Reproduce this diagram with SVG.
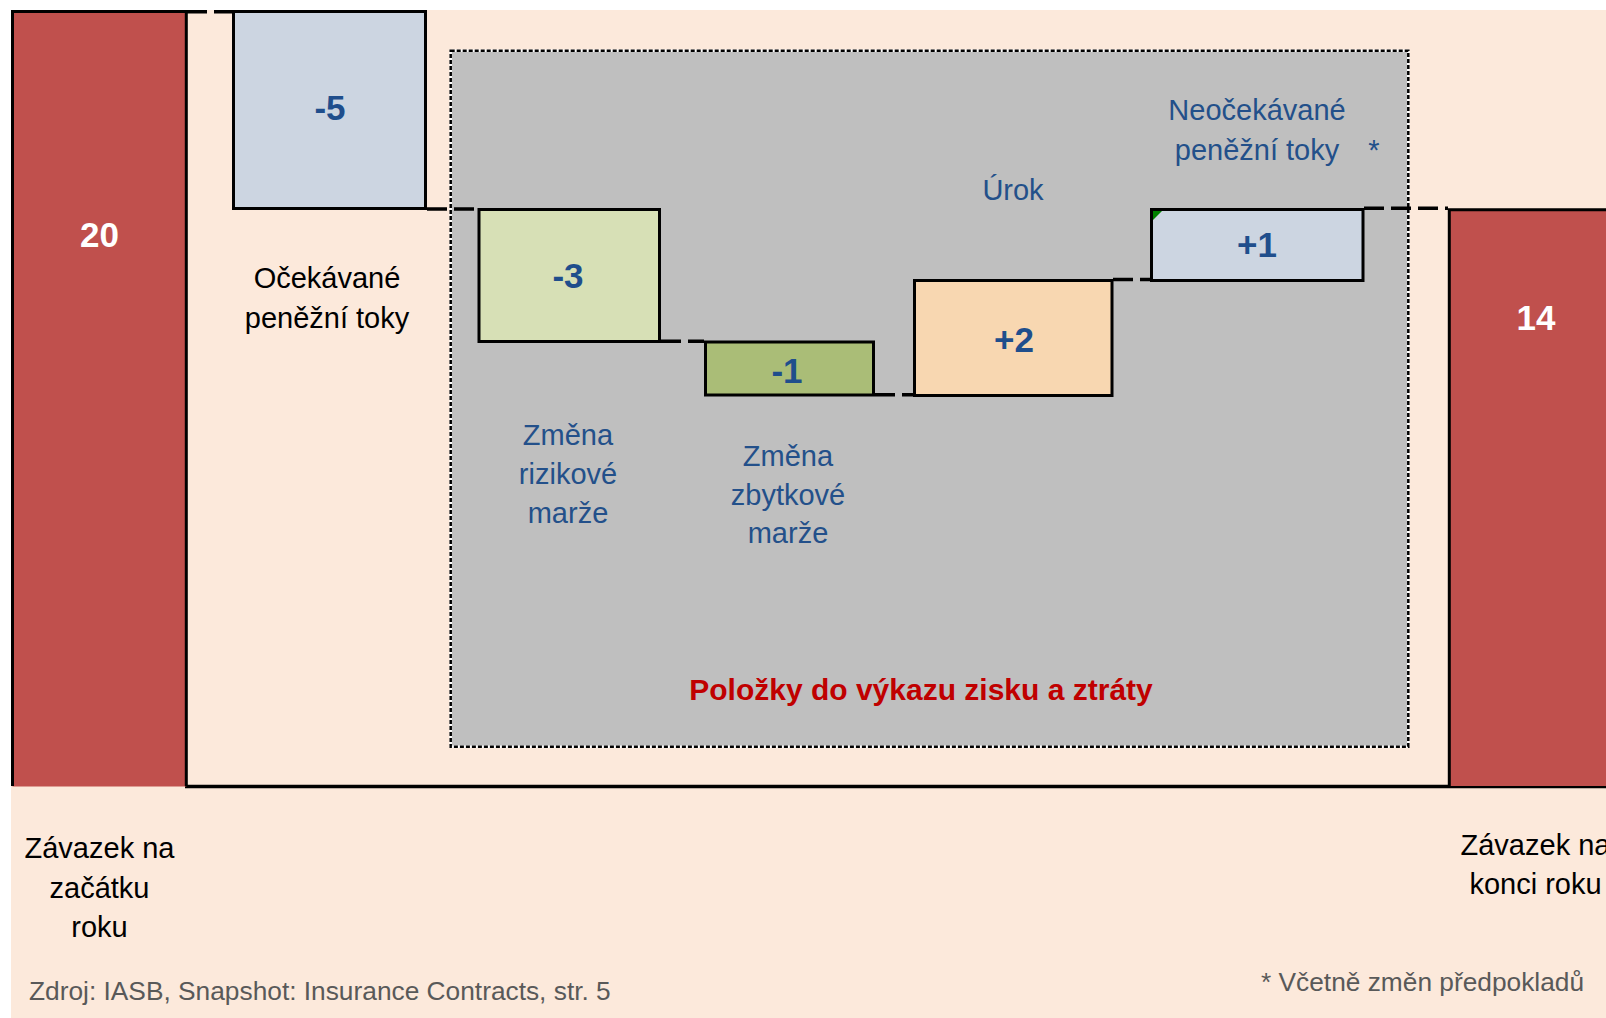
<svg xmlns="http://www.w3.org/2000/svg" width="1606" height="1018" viewBox="0 0 1606 1018">
<style>
  text { font-family: "Liberation Sans", Arial, sans-serif; }
  .num { font-size: 35px; font-weight: bold; fill: #1F4E8C; text-anchor: middle; }
  .numw { font-size: 35px; font-weight: bold; fill: #FFFFFF; text-anchor: middle; }
  .lbl { font-size: 29px; fill: #23508A; text-anchor: middle; }
  .lblk { font-size: 29px; fill: #000000; text-anchor: middle; }
  .note { font-size: 26.3px; fill: #595959; }
  .box { stroke: #000; stroke-width: 3; }
  .conn { stroke: #000; stroke-width: 3.5; stroke-dasharray: 20 7; fill: none; }
</style>
<rect x="0" y="0" width="1606" height="1018" fill="#FFFFFF"/>
<rect x="11" y="10" width="1595" height="1008" fill="#FCE9DB"/>

<g id="group-pl">
  <rect x="450.7" y="50.7" width="957.6" height="696" fill="#BFBFBF" stroke="#FFFFFF" stroke-width="2.5"/>
  <rect x="450.7" y="50.7" width="957.6" height="696" fill="none" stroke="#000" stroke-width="2.5" stroke-dasharray="4 2"/>
  <text x="921" y="700" style="font-size:30px;font-weight:bold;fill:#C00000;text-anchor:middle">Položky do výkazu zisku a ztráty</text>
</g>

<g id="connectors">
  <line class="conn" x1="187" y1="11.7" x2="232" y2="11.7"/>
  <line class="conn" x1="427" y1="209" x2="477" y2="209"/>
  <line class="conn" x1="661" y1="341.3" x2="704" y2="341.3"/>
  <line class="conn" x1="875" y1="394.7" x2="913" y2="394.7"/>
  <line class="conn" x1="1113" y1="279.5" x2="1150" y2="279.5"/>
  <line class="conn" x1="1364" y1="208.3" x2="1448" y2="208.3"/>
</g>

<g id="baseline">
  <line x1="185" y1="786.5" x2="1606" y2="786.5" stroke="#000" stroke-width="3.3"/>
</g>

<g id="bar-start">
  <rect x="12.5" y="11.5" width="173.8" height="775" fill="#C0504D"/>
  <path d="M12.5,786 V11.5 H186.3 V786" fill="none" stroke="#000" stroke-width="3"/>
  <text class="numw" x="99.5" y="247">20</text>
  <text class="lblk" x="99.5" y="858">Závazek na</text>
  <text class="lblk" x="99.5" y="898">začátku</text>
  <text class="lblk" x="99.5" y="937">roku</text>
</g>

<g id="box-expected">
  <rect class="box" x="233.5" y="11.5" width="192" height="197" fill="#CCD5E1"/>
  <text class="num" x="330" y="120">-5</text>
  <text class="lblk" x="327" y="288">Očekávané</text>
  <text class="lblk" x="327" y="328">peněžní toky</text>
</g>

<g id="box-risk">
  <rect class="box" x="479" y="209.5" width="180.5" height="132" fill="#D7E0B6"/>
  <text class="num" x="568" y="288">-3</text>
  <text class="lbl" x="568" y="445">Změna</text>
  <text class="lbl" x="568" y="484">rizikové</text>
  <text class="lbl" x="568" y="523">marže</text>
</g>

<g id="box-residual">
  <rect class="box" x="705.5" y="342" width="168" height="53" fill="#AABD77"/>
  <text class="num" x="787" y="383">-1</text>
  <text class="lbl" x="788" y="466">Změna</text>
  <text class="lbl" x="788" y="505">zbytkové</text>
  <text class="lbl" x="788" y="543">marže</text>
</g>

<g id="box-interest">
  <rect class="box" x="914.5" y="280.5" width="197.5" height="115" fill="#F8D7B1"/>
  <text class="num" x="1014" y="352">+2</text>
  <text class="lbl" x="1013" y="200">Úrok</text>
</g>

<g id="box-unexpected">
  <rect class="box" x="1151.5" y="209.5" width="211.5" height="71" fill="#CCD5E1"/>
  <polygon points="1153,211 1162,211 1153,220" fill="#008000"/>
  <text class="num" x="1257" y="257">+1</text>
  <text class="lbl" x="1257" y="120">Neočekávané</text>
  <text class="lbl" x="1257" y="160">peněžní toky</text>
  <text class="lbl" x="1374" y="160">*</text>
</g>

<g id="bar-end">
  <rect x="1449.3" y="209.7" width="160" height="576.3" fill="#C0504D"/>
  <path d="M1449.3,786 V209.7 H1610" fill="none" stroke="#000" stroke-width="3"/>
  <text class="numw" x="1536" y="330">14</text>
  <text class="lblk" x="1535.5" y="855">Závazek na</text>
  <text class="lblk" x="1535.5" y="894">konci roku</text>
</g>

<g id="notes">
  <text class="note" x="29" y="1000">Zdroj: IASB, Snapshot: Insurance Contracts, str. 5</text>
  <text class="note" x="1261" y="991">* Včetně změn předpokladů</text>
</g>
</svg>
